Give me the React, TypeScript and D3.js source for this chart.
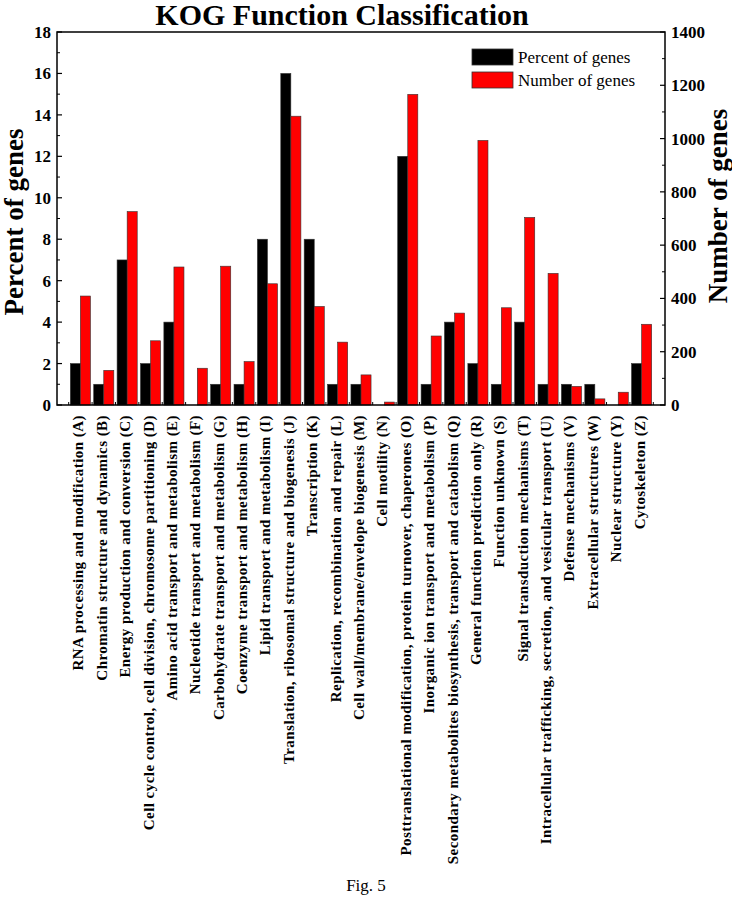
import React from "react";
import * as d3 from "d3";

const categories = [
  "RNA processing and modification (A)",
  "Chromatin structure and dynamics (B)",
  "Energy production and conversion (C)",
  "Cell cycle control, cell division, chromosome partitioning (D)",
  "Amino acid transport and metabolism (E)",
  "Nucleotide transport and metabolism (F)",
  "Carbohydrate transport and metabolism (G)",
  "Coenzyme transport and metabolism (H)",
  "Lipid transport and metabolism (I)",
  "Translation, ribosomal structure and biogenesis (J)",
  "Transcription (K)",
  "Replication, recombination and repair (L)",
  "Cell wall/membrane/envelope biogenesis (M)",
  "Cell motility (N)",
  "Posttranslational modification, protein turnover, chaperones (O)",
  "Inorganic ion transport and metabolism (P)",
  "Secondary metabolites biosynthesis, transport and catabolism (Q)",
  "General function prediction only (R)",
  "Function unknown (S)",
  "Signal transduction mechanisms (T)",
  "Intracellular trafficking, secretion, and vesicular transport (U)",
  "Defense mechanisms (V)",
  "Extracellular structures (W)",
  "Nuclear structure (Y)",
  "Cytoskeleton (Z)",
];

const percentOfGenes = [2, 1, 7, 2, 4, 0, 1, 1, 8, 16, 8, 1, 1, 0, 12, 1, 4, 2, 1, 4, 1, 1, 1, 0, 2];
const numberOfGenes = [409, 130, 726, 241, 518, 138, 521, 163, 455, 1084, 370, 236, 113, 11, 1166, 259, 345, 993, 365, 704, 494, 70, 23, 48, 303];

const leftTicks = [0, 2, 4, 6, 8, 10, 12, 14, 16, 18];
const rightTicks = [0, 200, 400, 600, 800, 1000, 1200, 1400];

const title = "KOG Function Classification";
const leftTitle = "Percent of genes";
const rightTitle = "Number of genes";
const legendLabels = ["Percent of genes", "Number of genes"];
const caption = "Fig. 5";

const FONT = "'Liberation Serif', 'Times New Roman', serif";

export default function App() {
  const L = 57, R = 665, T = 32, B = 405;
  const x = d3.scaleLinear().domain([0, categories.length + 1]).range([L, R]);
  const yL = d3.scaleLinear().domain([0, 18]).range([B, T]);
  const yR = d3.scaleLinear().domain([0, 1400]).range([B, T]);
  const bw = 0.43;

  const leftMinor = d3.range(1, 18, 2);
  const rightMinor = d3.range(100, 1400, 200);
  const bottomTicks = d3.range(0, categories.length + 1).map((i) => i + 0.5);

  return (
    <svg
      width={732}
      height={917}
      style={{ position: "absolute", left: 0, top: 0, background: "#fff" }}
      fontFamily={FONT}
    >
      <rect x={0} y={0} width={732} height={917} fill="#fff" />
      <text x={342} y={25} textAnchor="middle" fontSize={30} fontWeight="bold">
        {title}
      </text>

      {/* bars */}
      {categories.map((c, i) => {
        const cx = i + 1;
        return (
          <g key={c}>
            {percentOfGenes[i] > 0 && (
              <rect
                x={x(cx - bw)}
                y={yL(percentOfGenes[i])}
                width={x(cx) - x(cx - bw)}
                height={yL(0) - yL(percentOfGenes[i])}
                fill="#000"
                stroke="#333"
                strokeWidth={0.6}
              />
            )}
            <rect
              x={x(cx)}
              y={yR(numberOfGenes[i])}
              width={x(cx + bw) - x(cx)}
              height={yR(0) - yR(numberOfGenes[i])}
              fill="#ff0000"
              stroke="#333"
              strokeWidth={0.6}
            />
          </g>
        );
      })}

      {/* frame */}
      <rect x={L} y={T} width={R - L} height={B - T} fill="none" stroke="#000" strokeWidth={1.5} />

      {/* left axis */}
      {leftTicks.map((t) => (
        <g key={"l" + t}>
          <line x1={L} x2={L + 5} y1={yL(t)} y2={yL(t)} stroke="#000" strokeWidth={1.2} />
          <text x={L - 6} y={yL(t) + 6} textAnchor="end" fontSize={17} fontWeight="bold">
            {t}
          </text>
        </g>
      ))}
      {leftMinor.map((t) => (
        <line key={"lm" + t} x1={L} x2={L + 3} y1={yL(t)} y2={yL(t)} stroke="#000" strokeWidth={1} />
      ))}

      {/* right axis */}
      {rightTicks.map((t) => (
        <g key={"r" + t}>
          <line x1={R} x2={R - 5} y1={yR(t)} y2={yR(t)} stroke="#000" strokeWidth={1.2} />
          <text x={R + 6} y={yR(t) + 6} textAnchor="start" fontSize={17} fontWeight="bold">
            {t}
          </text>
        </g>
      ))}
      {rightMinor.map((t) => (
        <line key={"rm" + t} x1={R} x2={R - 3} y1={yR(t)} y2={yR(t)} stroke="#000" strokeWidth={1} />
      ))}

      {/* bottom ticks */}
      {bottomTicks.map((t) => (
        <line key={"b" + t} x1={x(t)} x2={x(t)} y1={B} y2={B - 3} stroke="#000" strokeWidth={1} />
      ))}

      {/* category labels */}
      {categories.map((c, i) => (
        <text
          key={"lab" + c}
          transform={`translate(${x(i + 1) + 3},${B + 10}) rotate(-90)`}
          textAnchor="end"
          fontSize={15}
          fontWeight="bold"
          letterSpacing={0.45}
        >
          {c}
        </text>
      ))}

      {/* axis titles */}
      <text transform={`translate(23,222) rotate(-90)`} textAnchor="middle" fontSize={27} fontWeight="bold">
        {leftTitle}
      </text>
      <text transform={`translate(727,206) rotate(-90)`} textAnchor="middle" fontSize={27} fontWeight="bold">
        {rightTitle}
      </text>

      {/* legend */}
      {legendLabels.map((lab, i) => (
        <g key={lab}>
          <rect
            x={472}
            y={49 + i * 23}
            width={41}
            height={16}
            fill={i === 0 ? "#000" : "#ff0000"}
            stroke="#333"
            strokeWidth={0.8}
          />
          <text x={518} y={63 + i * 23} fontSize={17}>
            {lab}
          </text>
        </g>
      ))}

      <text x={366} y={891} textAnchor="middle" fontSize={17}>
        {caption}
      </text>
    </svg>
  );
}
